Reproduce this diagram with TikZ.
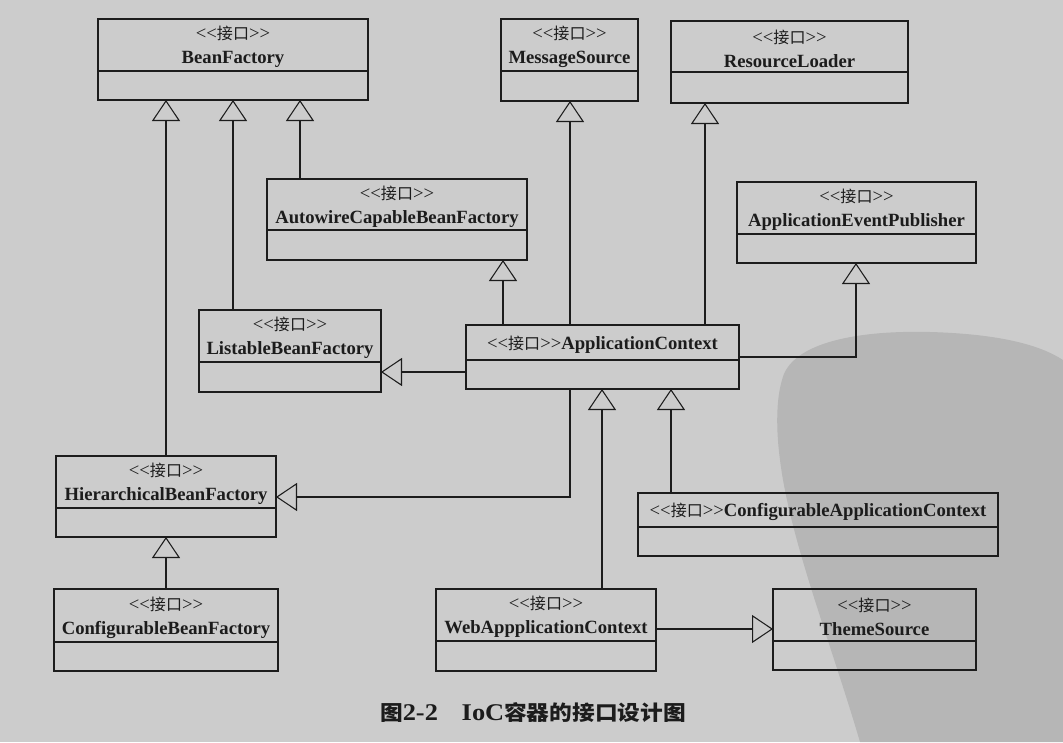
\documentclass[tikz,border=0pt]{standalone}
\usepackage{fontspec}
\usepackage{graphicx}
\setmainfont{Liberation Serif}
\newfontfamily\cjk{Noto Sans CJK SC}[Scale=0.86]
\usetikzlibrary{arrows.meta,fit}
\definecolor{bgcol}{RGB}{204,204,204}
\definecolor{blobcol}{RGB}{182,182,182}
\definecolor{ink}{RGB}{28,28,28}
\newcommand\stereo{<\kern0pt<{\cjk 接口}>\kern0pt>}
% #1 name, #2 x1, #3 y1, #4 x2, #5 y2, #6 divider y, #7 text
\newcommand\umlbox[7]{%
  \node[umlframe, fit={(#2,#3) (#4,#5)}] (#1) {};
  \draw[umldiv] (#1.west |- 0,#6) -- (#1.east |- 0,#6);
  \node[umltext] (#1-t) at ({(#2+#4)/2},{(#3+#6)/2+2}) {#7};
}
\begin{document}
\begin{tikzpicture}[x=0.75pt,y=-0.75pt,
  umlframe/.style={draw=ink, line width=0.9pt, inner sep=0pt, outer sep=0pt},
  umldiv/.style={draw=ink, line width=0.9pt},
  umltext/.style={text=ink, font=\fontsize{14}{18}\selectfont, align=center, inner sep=0pt},
  gen/.style={draw=ink, line width=0.8pt, -{Triangle[open, length=15.75pt, width=21pt, line width=0.8pt]}},
  captext/.style={text=ink, font=\fontsize{18}{22}\selectfont, inner sep=0pt}]
\useasboundingbox (0,0) rectangle (1063,742);
\fill[bgcol] (0,0) rectangle (1063,742);
% watermark blob
\fill[blobcol] (782,380) .. controls (790,345) and (850,330) .. (930,332)
  .. controls (1000,334) and (1040,345) .. (1063,360) -- (1063,742) -- (860,742)
  .. controls (830,640) and (790,540) .. (780,460)
  .. controls (776,430) and (776,400) .. (782,380) -- cycle;

% boxes
\umlbox{bf}{98}{19}{368}{100}{71}{\stereo\\\textbf{BeanFactory}}
\umlbox{ms}{501}{19}{638}{101}{71}{\stereo\\\textbf{MessageSource}}
\umlbox{rl}{671}{21}{908}{103}{72}{\stereo\\\textbf{ResourceLoader}}
\umlbox{acbf}{267}{179}{527}{260}{230}{\stereo\\\textbf{AutowireCapableBeanFactory}}
\umlbox{aep}{737}{182}{976}{263}{234}{\stereo\\\textbf{ApplicationEventPublisher}}
\umlbox{lbf}{199}{310}{381}{392}{362}{\stereo\\\textbf{ListableBeanFactory}}
\umlbox{ac}{466}{325}{739}{389}{360}{\stereo\textbf{ApplicationContext}}
\umlbox{hbf}{56}{456}{276}{537}{508}{\stereo\\\textbf{HierarchicalBeanFactory}}
\umlbox{cac}{638}{493}{998}{556}{527}{\stereo\textbf{ConfigurableApplicationContext}}
\umlbox{cbf}{54}{589}{278}{671}{642}{\stereo\\\textbf{ConfigurableBeanFactory}}
\umlbox{wac}{436}{589}{656}{671}{641}{\stereo\\\textbf{WebAppplicationContext}}
\umlbox{ts}{773}{589}{976}{670}{641}{\stereo\\\textbf{ThemeSource}}

% connectors (generalization)
\draw[gen] (hbf.north -| 166,0) -- (bf.south -| 166,0);
\draw[gen] (lbf.north -| 233,0) -- (bf.south -| 233,0);
\draw[gen] (acbf.north -| 300,0) -- (bf.south -| 300,0);
\draw[gen] (ac.north -| 503,0) -- (acbf.south -| 503,0);
\draw[gen] (ac.north -| 570,0) -- (ms.south -| 570,0);
\draw[gen] (ac.north -| 705,0) -- (rl.south -| 705,0);
\coordinate (aepc) at (856,357);
\draw[gen] (ac.east |- aepc) -- (aepc) -- (aep.south -| aepc);
\draw[gen] (ac.west |- 0,372) -- (lbf.east |- 0,372);
\coordinate (hbfc) at (570,497);
\draw[gen] (ac.south -| hbfc) -- (hbfc) -- (hbf.east |- hbfc);
\draw[gen] (cbf.north -| 166,0) -- (hbf.south -| 166,0);
\draw[gen] (wac.north -| 602,0) -- (ac.south -| 602,0);
\draw[gen] (cac.north -| 671,0) -- (ac.south -| 671,0);
\draw[gen] (wac.east |- 0,629) -- (ts.west |- 0,629);

% caption
\node[captext] (cap) at (533,713) {\scalebox{1.1}[1]{{\cjk\bfseries 图}\textbf{2-2}\hspace{0.9em}\textbf{IoC}{\cjk\bfseries 容器的接口设计图}}};
\end{tikzpicture}
\end{document}
